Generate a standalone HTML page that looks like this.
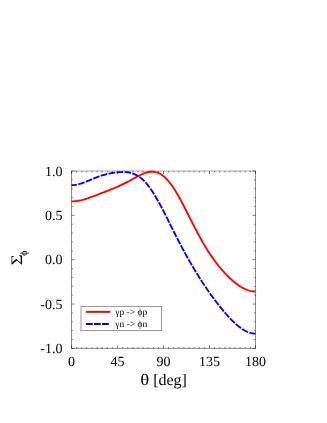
<!DOCTYPE html>
<html><head><meta charset="utf-8"><style>
html,body{margin:0;padding:0;background:#fff;}
svg{display:block;font-family:"Liberation Serif",serif;}
svg{will-change:transform;text-rendering:geometricPrecision;}
</style></head><body>
<svg width="327" height="423" viewBox="0 0 327 423">
<rect width="327" height="423" fill="#fff"/>
<path d="M71.5,171.0 V348.4 H255.5 V171.0" fill="none" stroke="#000" stroke-width="0.45"/>
<path d="M71.28,171.0 H255.72" fill="none" stroke="#000" stroke-width="0.34"/>
<path d="M71.50,348.4 v-3.0 M71.50,171.0 v3.0 M76.61,348.4 v-1.4 M76.61,171.0 v1.4 M81.72,348.4 v-1.4 M81.72,171.0 v1.4 M86.83,348.4 v-1.4 M86.83,171.0 v1.4 M91.94,348.4 v-1.4 M91.94,171.0 v1.4 M97.06,348.4 v-1.4 M97.06,171.0 v1.4 M102.17,348.4 v-1.4 M102.17,171.0 v1.4 M107.28,348.4 v-1.4 M107.28,171.0 v1.4 M112.39,348.4 v-1.4 M112.39,171.0 v1.4 M117.50,348.4 v-3.0 M117.50,171.0 v3.0 M122.61,348.4 v-1.4 M122.61,171.0 v1.4 M127.72,348.4 v-1.4 M127.72,171.0 v1.4 M132.83,348.4 v-1.4 M132.83,171.0 v1.4 M137.94,348.4 v-1.4 M137.94,171.0 v1.4 M143.06,348.4 v-1.4 M143.06,171.0 v1.4 M148.17,348.4 v-1.4 M148.17,171.0 v1.4 M153.28,348.4 v-1.4 M153.28,171.0 v1.4 M158.39,348.4 v-1.4 M158.39,171.0 v1.4 M163.50,348.4 v-3.0 M163.50,171.0 v3.0 M168.61,348.4 v-1.4 M168.61,171.0 v1.4 M173.72,348.4 v-1.4 M173.72,171.0 v1.4 M178.83,348.4 v-1.4 M178.83,171.0 v1.4 M183.94,348.4 v-1.4 M183.94,171.0 v1.4 M189.06,348.4 v-1.4 M189.06,171.0 v1.4 M194.17,348.4 v-1.4 M194.17,171.0 v1.4 M199.28,348.4 v-1.4 M199.28,171.0 v1.4 M204.39,348.4 v-1.4 M204.39,171.0 v1.4 M209.50,348.4 v-3.0 M209.50,171.0 v3.0 M214.61,348.4 v-1.4 M214.61,171.0 v1.4 M219.72,348.4 v-1.4 M219.72,171.0 v1.4 M224.83,348.4 v-1.4 M224.83,171.0 v1.4 M229.94,348.4 v-1.4 M229.94,171.0 v1.4 M235.06,348.4 v-1.4 M235.06,171.0 v1.4 M240.17,348.4 v-1.4 M240.17,171.0 v1.4 M245.28,348.4 v-1.4 M245.28,171.0 v1.4 M250.39,348.4 v-1.4 M250.39,171.0 v1.4 M255.50,348.4 v-3.0 M255.50,171.0 v3.0 M71.5,171.00 h3.0 M255.5,171.00 h-3.0 M71.5,179.87 h1.4 M255.5,179.87 h-1.4 M71.5,188.74 h1.4 M255.5,188.74 h-1.4 M71.5,197.61 h1.4 M255.5,197.61 h-1.4 M71.5,206.48 h1.4 M255.5,206.48 h-1.4 M71.5,215.35 h3.0 M255.5,215.35 h-3.0 M71.5,224.22 h1.4 M255.5,224.22 h-1.4 M71.5,233.09 h1.4 M255.5,233.09 h-1.4 M71.5,241.96 h1.4 M255.5,241.96 h-1.4 M71.5,250.83 h1.4 M255.5,250.83 h-1.4 M71.5,259.70 h3.0 M255.5,259.70 h-3.0 M71.5,268.57 h1.4 M255.5,268.57 h-1.4 M71.5,277.44 h1.4 M255.5,277.44 h-1.4 M71.5,286.31 h1.4 M255.5,286.31 h-1.4 M71.5,295.18 h1.4 M255.5,295.18 h-1.4 M71.5,304.05 h3.0 M255.5,304.05 h-3.0 M71.5,312.92 h1.4 M255.5,312.92 h-1.4 M71.5,321.79 h1.4 M255.5,321.79 h-1.4 M71.5,330.66 h1.4 M255.5,330.66 h-1.4 M71.5,339.53 h1.4 M255.5,339.53 h-1.4 M71.5,348.40 h3.0 M255.5,348.40 h-3.0" fill="none" stroke="#000" stroke-width="0.5"/>
<g font-size="14" fill="#000"><text x="71.50" y="366" text-anchor="middle">0</text><text x="117.50" y="366" text-anchor="middle">45</text><text x="163.50" y="366" text-anchor="middle">90</text><text x="209.50" y="366" text-anchor="middle">135</text><text x="255.50" y="366" text-anchor="middle">180</text><text x="62.5" y="175.70" text-anchor="end">1.0</text><text x="62.5" y="220.05" text-anchor="end">0.5</text><text x="62.5" y="264.40" text-anchor="end">0.0</text><text x="62.5" y="308.75" text-anchor="end">-0.5</text><text x="62.5" y="353.10" text-anchor="end">-1.0</text></g>
<text transform="translate(140.15,385.3) scale(1.17,1)" font-size="16">θ</text><text x="153.2" y="385.3" font-size="16">[deg]</text>
<text transform="translate(22,265.2) rotate(-90) scale(1.17,1)" font-size="16">Σ</text>
<text transform="translate(26.7,255.8) rotate(-90)" font-size="10">ϕ</text>
<path d="M71.50,201.40 L72.52,201.39 L73.54,201.35 L74.57,201.28 L75.59,201.18 L76.61,201.06 L77.63,200.92 L78.66,200.75 L79.68,200.56 L80.70,200.34 L81.72,200.10 L82.74,199.85 L83.77,199.57 L84.79,199.28 L85.81,198.97 L86.83,198.65 L87.86,198.31 L88.88,197.96 L89.90,197.60 L90.92,197.23 L91.94,196.86 L92.97,196.48 L93.99,196.09 L95.01,195.70 L96.03,195.31 L97.06,194.91 L98.08,194.51 L99.10,194.12 L100.12,193.72 L101.14,193.32 L102.17,192.92 L103.19,192.52 L104.21,192.13 L105.23,191.73 L106.26,191.33 L107.28,190.94 L108.30,190.54 L109.32,190.14 L110.34,189.73 L111.37,189.33 L112.39,188.92 L113.41,188.50 L114.43,188.08 L115.46,187.66 L116.48,187.22 L117.50,186.78 L118.52,186.33 L119.54,185.87 L120.57,185.40 L121.59,184.92 L122.61,184.43 L123.63,183.93 L124.66,183.41 L125.68,182.89 L126.70,182.36 L127.72,181.82 L128.74,181.28 L129.77,180.72 L130.79,180.16 L131.81,179.60 L132.83,179.03 L133.86,178.47 L134.88,177.91 L135.90,177.35 L136.92,176.80 L137.94,176.26 L138.97,175.74 L139.99,175.23 L141.01,174.74 L142.03,174.28 L143.06,173.84 L144.08,173.43 L145.10,173.06 L146.12,172.73 L147.14,172.44 L148.17,172.19 L149.19,172.00 L150.21,171.86 L151.23,171.77 L152.26,171.75 L153.28,171.78 L154.30,171.89 L155.32,172.06 L156.34,172.30 L157.37,172.62 L158.39,173.01 L159.41,173.48 L160.43,174.02 L161.46,174.65 L162.48,175.35 L163.50,176.14 L164.52,177.00 L165.54,177.95 L166.57,178.97 L167.59,180.07 L168.61,181.25 L169.63,182.50 L170.66,183.83 L171.68,185.22 L172.70,186.69 L173.72,188.21 L174.74,189.80 L175.77,191.45 L176.79,193.15 L177.81,194.90 L178.83,196.70 L179.86,198.54 L180.88,200.42 L181.90,202.33 L182.92,204.28 L183.94,206.25 L184.97,208.24 L185.99,210.24 L187.01,212.26 L188.03,214.29 L189.06,216.32 L190.08,218.35 L191.10,220.38 L192.12,222.41 L193.14,224.42 L194.17,226.42 L195.19,228.40 L196.21,230.36 L197.23,232.31 L198.26,234.22 L199.28,236.12 L200.30,237.98 L201.32,239.82 L202.34,241.62 L203.37,243.39 L204.39,245.13 L205.41,246.84 L206.43,248.51 L207.46,250.15 L208.48,251.75 L209.50,253.32 L210.52,254.86 L211.54,256.36 L212.57,257.83 L213.59,259.27 L214.61,260.67 L215.63,262.05 L216.66,263.39 L217.68,264.70 L218.70,265.98 L219.72,267.23 L220.74,268.46 L221.77,269.65 L222.79,270.82 L223.81,271.96 L224.83,273.08 L225.86,274.16 L226.88,275.22 L227.90,276.26 L228.92,277.26 L229.94,278.24 L230.97,279.19 L231.99,280.11 L233.01,281.01 L234.03,281.87 L235.06,282.71 L236.08,283.51 L237.10,284.28 L238.12,285.02 L239.14,285.73 L240.17,286.40 L241.19,287.03 L242.21,287.62 L243.23,288.18 L244.26,288.70 L245.28,289.17 L246.30,289.61 L247.32,290.00 L248.34,290.35 L249.37,290.65 L250.39,290.91 L251.41,291.12 L252.43,291.29 L253.46,291.41 L254.48,291.48 L255.50,291.50" fill="none" stroke="#f00" stroke-width="1.85" stroke-linejoin="round"/>
<path d="M71.50,185.13 L72.52,185.11 L73.54,185.05 L74.57,184.96 L75.59,184.82 L76.61,184.65 L77.63,184.45 L78.66,184.21 L79.68,183.94 L80.70,183.64 L81.72,183.31 L82.74,182.96 L83.77,182.60 L84.79,182.21 L85.81,181.80 L86.83,181.39 L87.86,180.97 L88.88,180.53 L89.90,180.10 L90.92,179.66 L91.94,179.23 L92.97,178.80 L93.99,178.38 L95.01,177.96 L96.03,177.56 L97.06,177.16 L98.08,176.78 L99.10,176.41 L100.12,176.06 L101.14,175.72 L102.17,175.40 L103.19,175.09 L104.21,174.80 L105.23,174.52 L106.26,174.26 L107.28,174.01 L108.30,173.78 L109.32,173.56 L110.34,173.36 L111.37,173.17 L112.39,172.99 L113.41,172.83 L114.43,172.68 L115.46,172.54 L116.48,172.42 L117.50,172.31 L118.52,172.22 L119.54,172.15 L120.57,172.09 L121.59,172.05 L122.61,172.03 L123.63,172.03 L124.66,172.06 L125.68,172.12 L126.70,172.21 L127.72,172.33 L128.74,172.48 L129.77,172.67 L130.79,172.91 L131.81,173.19 L132.83,173.51 L133.86,173.89 L134.88,174.31 L135.90,174.80 L136.92,175.34 L137.94,175.94 L138.97,176.60 L139.99,177.33 L141.01,178.12 L142.03,178.98 L143.06,179.91 L144.08,180.91 L145.10,181.97 L146.12,183.10 L147.14,184.31 L148.17,185.57 L149.19,186.91 L150.21,188.31 L151.23,189.77 L152.26,191.29 L153.28,192.87 L154.30,194.50 L155.32,196.19 L156.34,197.92 L157.37,199.70 L158.39,201.52 L159.41,203.38 L160.43,205.28 L161.46,207.20 L162.48,209.16 L163.50,211.13 L164.52,213.13 L165.54,215.14 L166.57,217.17 L167.59,219.21 L168.61,221.25 L169.63,223.30 L170.66,225.34 L171.68,227.39 L172.70,229.43 L173.72,231.47 L174.74,233.49 L175.77,235.51 L176.79,237.51 L177.81,239.51 L178.83,241.48 L179.86,243.45 L180.88,245.39 L181.90,247.32 L182.92,249.24 L183.94,251.13 L184.97,253.01 L185.99,254.87 L187.01,256.71 L188.03,258.53 L189.06,260.34 L190.08,262.12 L191.10,263.89 L192.12,265.64 L193.14,267.37 L194.17,269.09 L195.19,270.79 L196.21,272.47 L197.23,274.13 L198.26,275.77 L199.28,277.40 L200.30,279.01 L201.32,280.61 L202.34,282.19 L203.37,283.75 L204.39,285.29 L205.41,286.82 L206.43,288.32 L207.46,289.82 L208.48,291.29 L209.50,292.75 L210.52,294.19 L211.54,295.62 L212.57,297.02 L213.59,298.41 L214.61,299.79 L215.63,301.15 L216.66,302.48 L217.68,303.81 L218.70,305.11 L219.72,306.40 L220.74,307.67 L221.77,308.92 L222.79,310.15 L223.81,311.37 L224.83,312.56 L225.86,313.74 L226.88,314.89 L227.90,316.03 L228.92,317.14 L229.94,318.22 L230.97,319.29 L231.99,320.33 L233.01,321.34 L234.03,322.32 L235.06,323.27 L236.08,324.19 L237.10,325.08 L238.12,325.94 L239.14,326.75 L240.17,327.53 L241.19,328.28 L242.21,328.97 L243.23,329.63 L244.26,330.24 L245.28,330.80 L246.30,331.32 L247.32,331.78 L248.34,332.20 L249.37,332.56 L250.39,332.87 L251.41,333.12 L252.43,333.32 L253.46,333.46 L254.48,333.55 L255.50,333.57" fill="none" stroke="#00f" stroke-width="1.85" stroke-dasharray="6.7 1.335" stroke-dashoffset="1.23" stroke-linejoin="round"/>
<rect x="81" y="306.5" width="80.5" height="24" fill="#fff" stroke="#999" stroke-width="1"/>
<path d="M85.9,311.9 H110.4" stroke="#f00" stroke-width="1.9"/>
<path d="M85.9,324 H109" stroke="#00f" stroke-width="1.9" stroke-dasharray="6.85 1.2"/>
<g font-size="9.5" fill="#000"><text x="115.3" y="315.4">γp -&gt; ϕp</text><text x="115.3" y="327.4">γn -&gt; ϕn</text></g>
</svg>
</body></html>
